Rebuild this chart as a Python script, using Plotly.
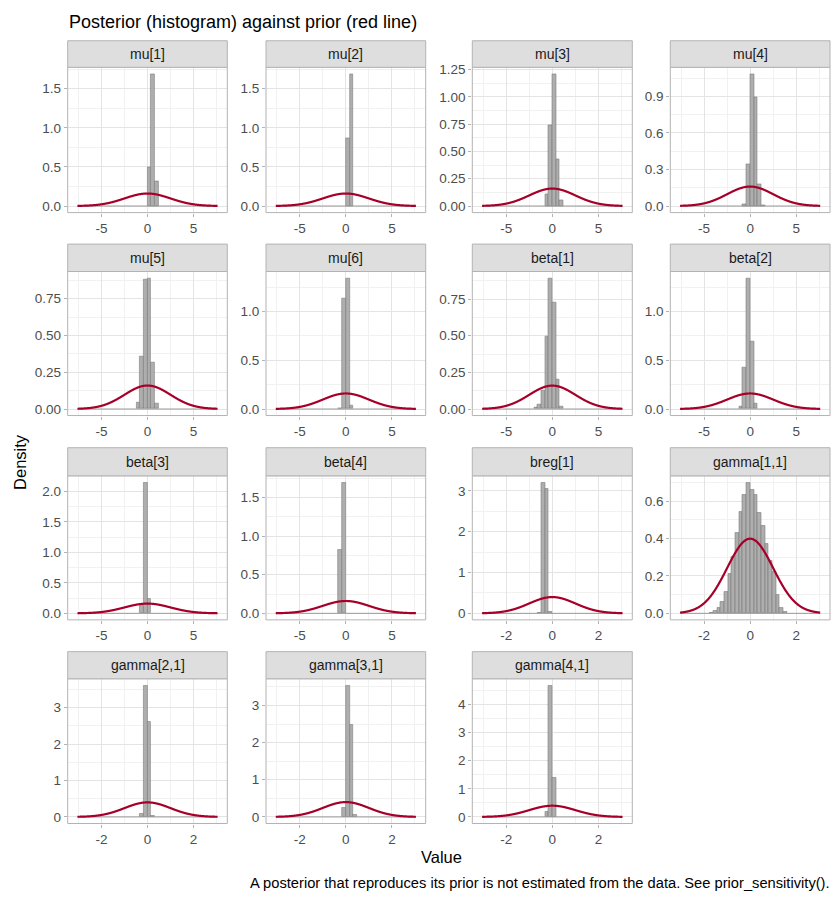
import numpy as np
import plotly.graph_objects as go

# ---------------- data ----------------
panel_names = ["mu[1]", "mu[2]", "mu[3]", "mu[4]", "mu[5]", "mu[6]",
               "beta[1]", "beta[2]", "beta[3]", "beta[4]", "breg[1]",
               "gamma[1,1]", "gamma[2,1]", "gamma[3,1]", "gamma[4,1]"]

prior_mean = [0.0] * 15
prior_sd = [2.5] * 10 + [1.0] * 5

bin_width = [0.4] * 10 + [0.16] * 5
hist_start = [0.0, 0.0, -0.8, -0.8, -1.2, -0.8, -2.0, -1.2, -0.8, -0.8,
              -0.64, -1.76, -0.32, -0.16, -0.32]
hist_heights = [
    [0.49, 1.69, 0.32],
    [0.87, 1.69],
    [0.103, 0.74, 1.21, 0.43, 0.05],
    [0.016, 0.344, 1.085, 0.895, 0.18, 0.01],
    [0.045, 0.355, 0.88, 0.89, 0.314, 0.034],
    [0.01, 1.14, 1.345, 0.037],
    [0.007, 0.034, 0.128, 0.497, 0.894, 0.73, 0.2, 0.018],
    [0.024, 0.43, 1.345, 0.696, 0.054],
    [0.12, 2.15, 0.238],
    [0.825, 1.694],
    [0.024, 3.21, 3.06, 0.03],
    [0.004, 0.011, 0.028, 0.064, 0.117, 0.21, 0.30, 0.43, 0.54, 0.634, 0.70,
     0.66, 0.634, 0.536, 0.47, 0.373, 0.28, 0.223, 0.10, 0.028, 0.009],
    [0.073, 3.61, 2.6, 0.02],
    [0.24, 3.54, 2.48, 0.07],
    [0.19, 4.68, 1.40],
]

x_ticks_wide = [-5, 0, 5]
x_ticks_narrow = [-2, 0, 2]

y_tick_labels = [
    ["0.0", "0.5", "1.0", "1.5"],
    ["0.0", "0.5", "1.0", "1.5"],
    ["0.00", "0.25", "0.50", "0.75", "1.00", "1.25"],
    ["0.0", "0.3", "0.6", "0.9"],
    ["0.00", "0.25", "0.50", "0.75"],
    ["0.0", "0.5", "1.0"],
    ["0.00", "0.25", "0.50", "0.75"],
    ["0.0", "0.5", "1.0"],
    ["0.0", "0.5", "1.0", "1.5", "2.0"],
    ["0.0", "0.5", "1.0", "1.5"],
    ["0", "1", "2", "3"],
    ["0.0", "0.2", "0.4", "0.6"],
    ["0", "1", "2", "3"],
    ["0", "1", "2", "3"],
    ["0", "1", "2", "3", "4"],
]

title_text = "Posterior (histogram) against prior (red line)"
x_title = "Value"
y_title = "Density"
caption = "A posterior that reproduces its prior is not estimated from the data. See prior_sensitivity()."

# ---------------- layout geometry (pixels) ----------------
W, H = 840, 900
col_left = [67.7, 266.0, 472.3, 670.3]
col_right = [227.3, 425.7, 632.3, 830.0]
strip_top = [36.0, 240.7, 445.7, 651.0]
panel_top = [62.7, 268.3, 474.0, 678.3]
panel_bot = [209.0, 413.3, 619.0, 824.0]

RED = "#A6002A"
BAR_FILL = "rgba(165,165,165,0.9)"
BAR_LINE = "#7C7C7C"
GRID_MAJ = "#E4E4E4"
GRID_MIN = "#F1F1F1"
BORDER = "#B3B3B3"
TICKCOL = "#4D4D4D"
FONT = "Liberation Sans, Arial, Helvetica, sans-serif"

fig = go.Figure()
shapes = []
annotations = []
layout_axes = {}


def minor_vals(vals):
    step = vals[1] - vals[0]
    out = [vals[0] - step / 2]
    for a, b in zip(vals[:-1], vals[1:]):
        out.append((a + b) / 2)
    out.append(vals[-1] + step / 2)
    return out


for i, name in enumerate(panel_names):
    r, c = divmod(i, 4)
    k = "" if i == 0 else str(i + 1)
    xa, ya = "x" + k, "y" + k
    sd = prior_sd[i]
    mu0 = prior_mean[i]
    bw = bin_width[i]
    heights = hist_heights[i]
    centers = [hist_start[i] + bw * (j + 0.5) for j in range(len(heights))]

    half = 19 * bw
    fig.add_trace(go.Scatter(x=[mu0 - half, mu0 + half], y=[0, 0], mode="lines",
                             line=dict(color="#9A9A9A", width=1),
                             xaxis=xa, yaxis=ya, showlegend=False, hoverinfo="skip"))
    fig.add_trace(go.Bar(x=centers, y=heights, width=[bw] * len(heights),
                         marker=dict(color=BAR_FILL, line=dict(color=BAR_LINE, width=0.6)),
                         xaxis=xa, yaxis=ya, showlegend=False))
    xs = np.linspace(mu0 - half, mu0 + half, 401)
    dens = np.exp(-0.5 * ((xs - mu0) / sd) ** 2) / (sd * np.sqrt(2 * np.pi))
    fig.add_trace(go.Scatter(x=xs.tolist(), y=dens.tolist(), mode="lines",
                             line=dict(color=RED, width=2.2, simplify=False, shape="spline"),
                             xaxis=xa, yaxis=ya, showlegend=False))

    ymax = max(max(heights), float(dens.max()))
    yr = [-0.05 * ymax, 1.05 * ymax]
    xext = half * 1.14
    xr = [mu0 - xext, mu0 + xext]

    xt = x_ticks_wide if sd > 1.5 else x_ticks_narrow
    ylabels = y_tick_labels[i]
    yv = [float(s) for s in ylabels]

    common = dict(showgrid=True, gridcolor=GRID_MAJ, gridwidth=1, zeroline=False,
                  showline=False, ticks="outside", ticklen=3, tickwidth=1,
                  tickcolor=BORDER, tickfont=dict(family=FONT, size=13.5, color=TICKCOL),
                  fixedrange=True, layer="below traces")

    layout_axes["xaxis" + k] = dict(
        domain=[col_left[c] / W, col_right[c] / W], anchor=ya, range=xr,
        tickmode="array", tickvals=xt, ticktext=[str(v) for v in xt],
        minor=dict(tickmode="array", tickvals=minor_vals(xt), showgrid=True,
                   gridcolor=GRID_MIN, gridwidth=1, ticks=""),
        **common)
    layout_axes["yaxis" + k] = dict(
        domain=[1 - panel_bot[r] / H, 1 - panel_top[r] / H], anchor=xa, range=yr,
        tickmode="array", tickvals=yv, ticktext=ylabels,
        minor=dict(tickmode="array", tickvals=minor_vals(yv), showgrid=True,
                   gridcolor=GRID_MIN, gridwidth=1, ticks=""),
        **common)

    shapes.append(dict(type="rect", xref=xa + " domain", yref=ya + " domain",
                       x0=0, x1=1, y0=0, y1=1, line=dict(color=BORDER, width=1),
                       fillcolor="rgba(0,0,0,0)", layer="above"))
    shapes.append(dict(type="rect", xref="paper", yref="paper",
                       x0=col_left[c] / W, x1=col_right[c] / W,
                       y0=1 - panel_top[r] / H, y1=1 - strip_top[r] / H,
                       line=dict(color=BORDER, width=1), fillcolor="#DEDEDE", layer="above"))
    annotations.append(dict(text=name, xref="paper", yref="paper",
                            x=(col_left[c] + col_right[c]) / 2 / W,
                            y=1 - (strip_top[r] + panel_top[r]) / 2 / H,
                            showarrow=False, xanchor="center", yanchor="middle",
                            font=dict(family=FONT, size=14, color="#1A1A1A")))

annotations.append(dict(text=title_text, xref="paper", yref="paper", x=66.5 / W, y=1 - 17 / H,
                        showarrow=False, xanchor="left", yanchor="middle",
                        font=dict(family=FONT, size=18, color="#000000")))
annotations.append(dict(text=x_title, xref="paper", yref="paper", x=441 / W, y=1 - 858 / H,
                        showarrow=False, xanchor="center", yanchor="middle",
                        font=dict(family=FONT, size=16.5, color="#000000")))
annotations.append(dict(text=y_title, xref="paper", yref="paper", x=20 / W, y=1 - 460 / H,
                        showarrow=False, xanchor="center", yanchor="middle", textangle=-90,
                        font=dict(family=FONT, size=16.5, color="#000000")))
annotations.append(dict(text=caption, xref="paper", yref="paper", x=832 / W, y=1 - 884 / H,
                        showarrow=False, xanchor="right", yanchor="middle",
                        font=dict(family=FONT, size=14.7, color="#000000")))

fig.update_layout(
    width=W, height=H, margin=dict(l=0, r=0, t=0, b=0),
    paper_bgcolor="white", plot_bgcolor="white",
    shapes=shapes, annotations=annotations, showlegend=False,
    bargap=0, font=dict(family=FONT),
    **layout_axes)

fig.write_html("out.html")
